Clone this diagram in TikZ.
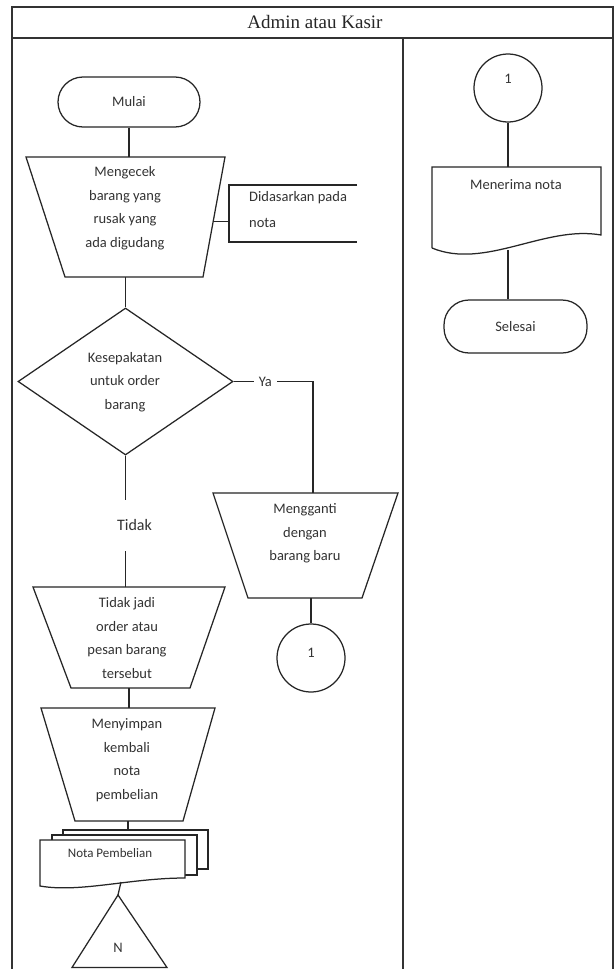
\documentclass[tikz,border=0pt]{standalone}
\usepackage{fontspec}
\setmainfont{Carlito}
\newfontfamily\titlefont{Liberation Serif}
\usetikzlibrary{shapes.geometric,calc}
\begin{document}
\begin{tikzpicture}[x=1pt,y=-1pt,
 ln/.style={line width=1.25pt,draw=black!85},
 fr/.style={line width=1.6pt,draw=black!80},
 txt/.style={font=\fontsize{14.5}{23.5}\selectfont,text=black!80,align=center,inner sep=0pt},
 lbl/.style={txt,fill=white,inner xsep=5pt,inner ysep=2pt},
 term/.style={ln,rectangle,rounded corners=25pt,inner sep=0pt,txt},
 hold/.style={rectangle,draw=none,inner sep=0pt,outer sep=0pt},
 conn/.style={ln,circle,minimum size=68pt,inner sep=0pt}]
\useasboundingbox (0,0) rectangle (615,969);
\fill[white] (0,0) rectangle (615,969);

% frame
\node[font=\titlefont\fontsize{19}{22}\selectfont, text=black!85, inner sep=0pt] (title) at (315,22) {Admin atau Kasir};
\draw[fr] (12,969) -- (12,7) -- (613,7) -- (613,969);
\draw[fr] (12,38) -- (613,38);
\draw[fr] (403,38) -- (403,969);

% Mulai
\node[term, minimum width=142pt, minimum height=50pt] (mulai) at (129,102) {Mulai};

% Mengecek
\node[hold, minimum width=199pt, minimum height=120pt] (cek) at (125.5,217) {};
\draw[ln] (cek.north west) -- (cek.north east) -- ([xshift=-22pt]cek.south east) -- ([xshift=39pt]cek.south west) -- cycle;
\node[txt] (cektx) at (125,208) {Mengecek\\barang yang\\rusak yang\\ada digudang};
\draw[ln] (mulai.south) -- (mulai.south |- cek.north);

% annotation
\node[txt, align=left, anchor=west, font=\fontsize{14.5}{26}\selectfont] (annot) at (249,210) {Didasarkan pada\\nota};
\coordinate (annTop) at (357,185);
\coordinate (annBot) at (357,242);
\coordinate (annMid) at (229,222);
\draw[ln] (annTop) -- (229,185) -- (229,242) -- (annBot);
\coordinate (cekR) at ($(cek.north east)!0.54!([xshift=-22pt]cek.south east)$);
\draw[ln] (cekR) -- (cekR -| annMid);

% decision
\node[ln, diamond, aspect=1.46, minimum width=215pt, minimum height=147pt, inner sep=0pt] (dec) at (125.5,381.5) {};
\node[txt] (dectx) at (125,382) {Kesepakatan\\untuk order\\barang};
\draw[ln] (cek.south) -- (dec.north);

% Mengganti
\node[hold, minimum width=185pt, minimum height=105pt] (ganti) at (305.5,545.5) {};
\draw[ln] (ganti.north west) -- (ganti.north east) -- ([xshift=-36pt]ganti.south east) -- ([xshift=35pt]ganti.south west) -- cycle;
\node[txt] (gantitx) at (305,533.5) {Mengganti\\dengan\\barang baru};

\coordinate (yac) at (313,381.5);
\draw[ln] (dec.east) -- node[lbl,pos=0.4] (ya) {Ya} (yac) -- (yac |- ganti.north);

% connector 1 (left lane)
\node[conn] (c1b) at (311,658) {};
\node[txt] (c1btx) at (311,653) {1};
\draw[ln] (c1b.north |- ganti.south) -- (c1b.north);

% Tidak jadi
\node[hold, minimum width=192pt, minimum height=101pt] (tj) at (129,637.5) {};
\draw[ln] (tj.north west) -- (tj.north east) -- ([xshift=-35pt]tj.south east) -- ([xshift=38pt]tj.south west) -- cycle;
\node[txt] (tjtx) at (127,638) {Tidak jadi\\order atau\\pesan barang\\tersebut};

\draw[ln] (dec.south) -- node[lbl, pos=0.53, inner ysep=20pt, xshift=9pt, font=\fontsize{16}{18}\selectfont] (tidak) {Tidak} (dec.south |- tj.north);

% Menyimpan
\node[hold, minimum width=174pt, minimum height=113pt] (simpan) at (128,764.5) {};
\draw[ln] (simpan.north west) -- (simpan.north east) -- ([xshift=-32pt]simpan.south east) -- ([xshift=34pt]simpan.south west) -- cycle;
\node[txt] (simpantx) at (127,760) {Menyimpan\\kembali\\nota\\pembelian};
\draw[ln] (tj.south) -- (tj.south |- simpan.north);

% multi-document
\node[hold, minimum width=145pt, minimum height=39pt, anchor=north west] (docback) at (63,830) {};
\draw[ln, fill=white] (docback.north west) rectangle (docback.south east);
\node[hold, minimum width=145pt, minimum height=40pt, anchor=north west] (docmid) at (52,835) {};
\draw[ln, fill=white] (docmid.north west) rectangle (docmid.south east);
\node[hold, minimum width=145pt, minimum height=38pt, anchor=north west] (docfront) at (40,840) {};
\draw[ln, fill=white] (docfront.north west) -- (docfront.north east) -- (docfront.south east) .. controls (130,878) and (80,893) .. (40,886) -- cycle;
\node[txt, font=\fontsize{13}{15}\selectfont] (doctx) at (110,853) {Nota Pembelian};
\draw[ln] (simpan.south) -- (simpan.south |- docback.north);

% off-page connector
\coordinate (tritop) at (118,895);
\coordinate (docbot) at (121,882);
\draw[ln] (tritop) -- (167,967.5) -- (72,967.5) -- cycle;
\node[txt] (ntx) at (118,948) {N};
\draw[ln] (docbot) -- (tritop);

% right lane
\node[conn] (c1a) at (508,88) {};
\node[txt] (c1atx) at (508,79) {1};
\node[hold, minimum width=169pt, minimum height=81pt, anchor=north west] (terima) at (432,167) {};
\draw[ln] (terima.south west) -- (terima.north west) -- (terima.north east) -- ([yshift=13pt]terima.south east) .. controls (545,225) and (485,270) .. (terima.south west);
\node[txt] (terimatx) at (516,185) {Menerima nota};
\draw[ln] (c1a.south) -- (c1a.south |- terima.north);
\node[term, minimum width=143pt, minimum height=53pt] (selesai) at (515.5,326.5) {Selesai};
\coordinate (terimab) at (508,250);
\draw[ln] (terimab) -- (terimab |- selesai.north);
\end{tikzpicture}
\end{document}
